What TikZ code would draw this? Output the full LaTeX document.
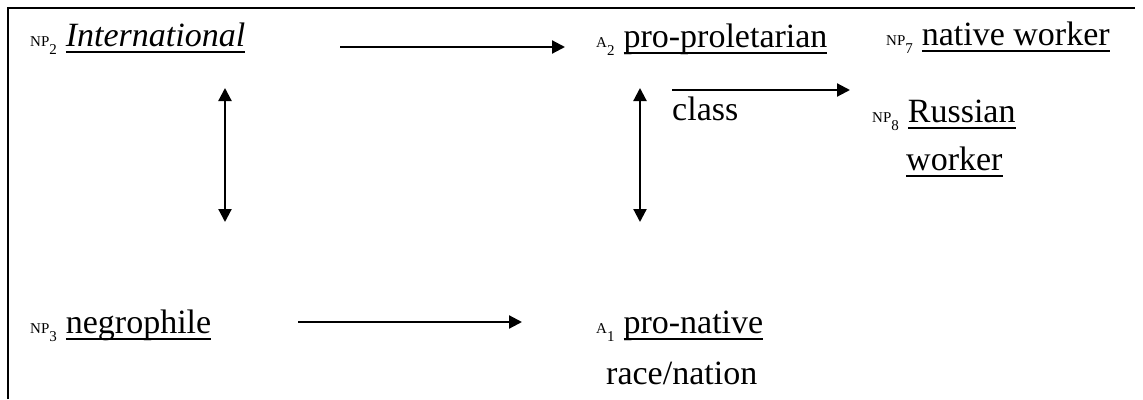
\documentclass[tikz,border=0pt]{standalone}
\usepackage{fontspec}
\setmainfont{Liberation Serif}
\usetikzlibrary{arrows.meta}
% small label with subscript index, e.g. NP_2, followed by a fixed gap
\newcommand{\lsub}[2]{{\fontsize{15}{15}\selectfont #1\raisebox{-8pt}{#2}}\hspace{9pt}}
% underline at a fixed depth below the baseline
\newcommand{\uline}[1]{\setbox0\hbox{#1}\rlap{\rule[-7pt]{\wd0}{2pt}}\box0}
\tikzset{
  term/.style={inner sep=0pt, anchor=base west, font=\fontsize{34}{40}\selectfont},
  link/.style={line width=2.2pt, -{Triangle[length=13pt,width=13pt]}},
  both/.style={line width=2.2pt, {Triangle[length=13pt,width=13pt]}-{Triangle[length=13pt,width=13pt]}},
  frame/.style={line width=2.4pt}
}
\begin{document}
\begin{tikzpicture}[x=1pt, y=-1pt]
\useasboundingbox (0,0) rectangle (1143,399);
% open frame: top and left edges
\draw[frame] (8,399) -- (8,8) -- (1135,8);

% terms
\node[term] (np2) at (30,46) {\lsub{NP}{2}\uline{\textit{International}}};
\node[term] (a2) at (596,47) {\lsub{A}{2}\uline{pro-proletarian}};
\node[term] (np7) at (886,45) {\lsub{NP}{7}\uline{native worker}};
\node[term] (cls) at (672,120) {class};
\node[term] (np8) at (872,122) {\lsub{NP}{8}\uline{Russian}};
\node[term] (wrk) at (906,170) {\uline{worker}};
\node[term] (np3) at (30,333) {\lsub{NP}{3}\uline{negrophile}};
\node[term] (a1) at (596,333) {\lsub{A}{1}\uline{pro-native}};
\node[term] (rn) at (606,384) {race/nation};

% connector end points
\coordinate (h1s) at (340,47);
\coordinate (h1e) at (565,47);
\coordinate (h2s) at (672,90);
\coordinate (h2e) at (850,90);
\coordinate (h3s) at (298,322);
\coordinate (h3e) at (522,322);
\coordinate (v1t) at (225,88);
\coordinate (v1b) at (225,222);
\coordinate (v2t) at (640,88);
\coordinate (v2b) at (640,222);

% connectors
\draw[link] (h1s) -- (h1e);
\draw[link] (h2s) -- (h2e);
\draw[link] (h3s) -- (h3e);
\draw[both] (v1t) -- (v1b);
\draw[both] (v2t) -- (v2b);
\end{tikzpicture}
\end{document}
